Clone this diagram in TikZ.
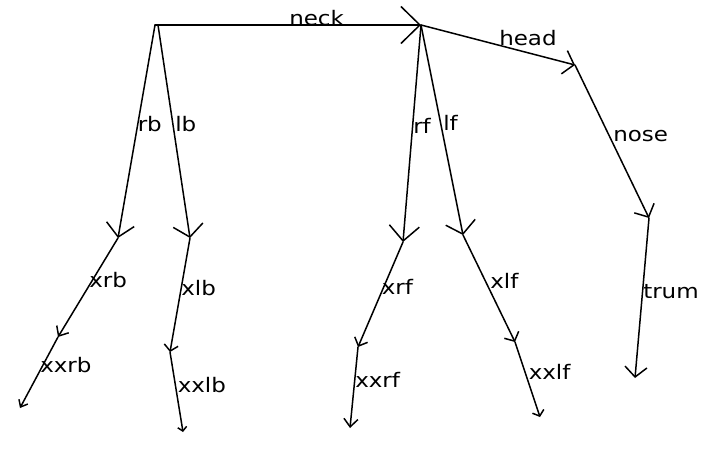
\documentclass[tikz,border=0pt]{standalone}
\usepackage{fontspec}
\newfontfamily\lblfont[FakeStretch=1.15]{DejaVu Sans}
\usetikzlibrary{arrows.meta}
\tikzset{
  edge/.style={line width=1.5pt, line cap=round},
  barb/.style 2 args={-{Straight Barb[length=#1,width=#2]}},
  lbl/.style={anchor=base west, inner sep=0.5pt, font=\lblfont\fontsize{20pt}{22pt}\selectfont}
}
\begin{document}
\begin{tikzpicture}[x=1pt,y=-1pt]
\useasboundingbox (0,0) rectangle (701,463);
% joints
\coordinate (A) at (155,25);
\coordinate (A2) at (158,25);
\coordinate (B) at (421,25);
\coordinate (H) at (575,65);
\coordinate (N) at (649,218);
\coordinate (T) at (635,378);
\coordinate (RB) at (118,238);
\coordinate (LB) at (190,238);
\coordinate (XRB) at (58,337);
\coordinate (XXRB) at (20,408);
\coordinate (XLB) at (170,352);
\coordinate (XXLB) at (183,432);
\coordinate (RF) at (403,242);
\coordinate (LF) at (463,235);
\coordinate (XRF) at (358,347);
\coordinate (XXRF) at (350,428);
\coordinate (XLF) at (515,342);
\coordinate (XXLF) at (540,417);
% edges
\draw[edge, barb={19pt}{37pt}] (A) -- node[lbl, pos=0.5] (lneck) {neck} (B);
\draw[edge, barb={13pt}{28pt}] (A) -- node[lbl, pos=0.5] (lrb) {rb} (RB);
\draw[edge, barb={12pt}{30pt}] (A2) -- node[lbl, pos=0.5] (llb) {lb} (LB);
\draw[edge, barb={15pt}{30pt}] (B) -- node[lbl, pos=0.5] (lrf) {rf} (RF);
\draw[edge, barb={12pt}{30pt}] (B) -- node[lbl, pos=0.5] (llf) {lf} (LF);
\draw[edge, barb={10pt}{24pt}] (B) -- node[lbl, pos=0.5] (lhead) {head} (H);
\draw[edge, barb={10pt}{22pt}] (H) -- node[lbl, pos=0.5] (lnose) {nose} (N);
\draw[edge, barb={10pt}{22pt}] (N) -- node[lbl, pos=0.5] (ltrum) {trum} (T);
\draw[edge, barb={8pt}{14pt}] (RB) -- node[lbl, pos=0.5] (lxrb) {xrb} (XRB);
\draw[edge, barb={6pt}{10pt}] (XRB) -- node[lbl, pos=0.5] (lxxrb) {xxrb} (XXRB);
\draw[edge, barb={6pt}{14pt}] (LB) -- node[lbl, pos=0.5] (lxlb) {xlb} (XLB);
\draw[edge, barb={4pt}{9pt}] (XLB) -- node[lbl, pos=0.5] (lxxlb) {xxlb} (XXLB);
\draw[edge, barb={7pt}{14pt}] (RF) -- node[lbl, pos=0.5] (lxrf) {xrf} (XRF);
\draw[edge, barb={8pt}{14pt}] (XRF) -- node[lbl, pos=0.5] (lxxrf) {xxrf} (XXRF);
\draw[edge, barb={7pt}{16pt}] (LF) -- node[lbl, pos=0.5] (lxlf) {xlf} (XLF);
\draw[edge, barb={5pt}{12pt}] (XLF) -- node[lbl, pos=0.5] (lxxlf) {xxlf} (XXLF);
\end{tikzpicture}
\end{document}
